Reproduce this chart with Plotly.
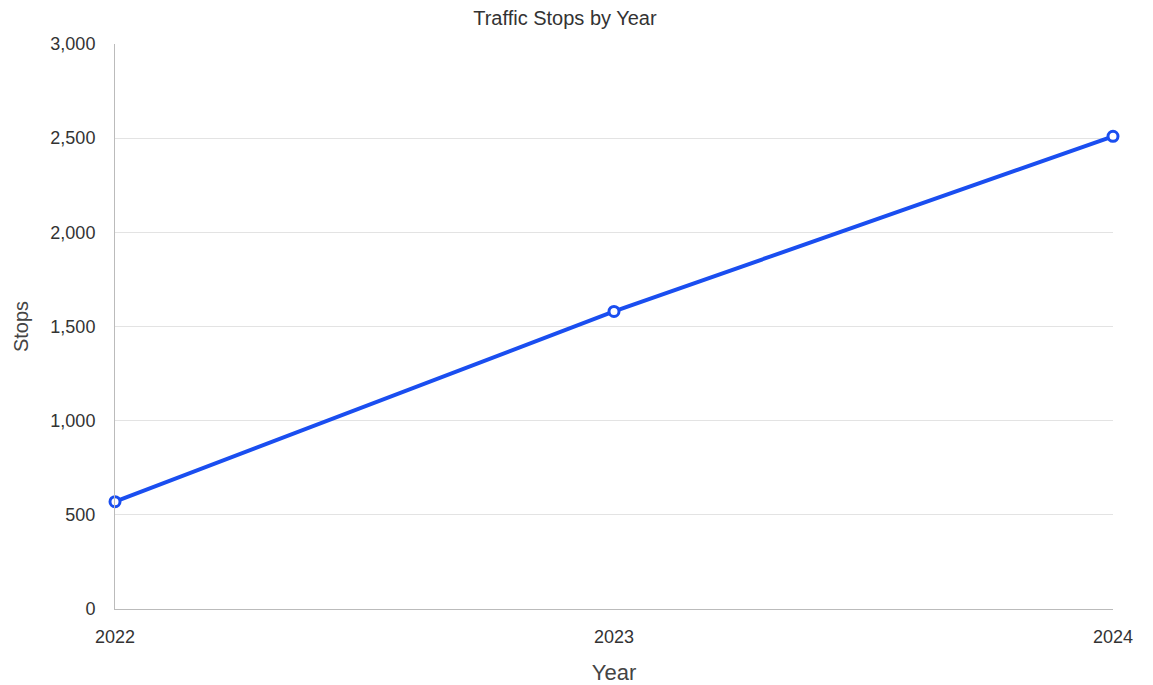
import plotly.graph_objects as go

years = [2022, 2023, 2024]
stops = [570, 1580, 2510]
y_ticks = [0, 500, 1000, 1500, 2000, 2500, 3000]
y_tick_labels = ["0", "500", "1,000", "1,500", "2,000", "2,500", "3,000"]

fig = go.Figure()
fig.add_trace(go.Scatter(
    x=years, y=stops, mode="lines+markers",
    line=dict(color="#1a4ef0", width=4),
    marker=dict(symbol="circle", size=10, color="white",
                line=dict(color="#1a4ef0", width=3)),
    cliponaxis=False, showlegend=False,
))

fig.update_layout(
    width=1153, height=685,
    margin=dict(l=107, r=48, t=36, b=84),
    paper_bgcolor="white", plot_bgcolor="white",
    font=dict(family="Arial, Liberation Sans, sans-serif", size=18, color="#333333"),
    title=dict(text="Traffic Stops by Year", x=0.483, xanchor="center",
               y=0.995, yanchor="top", pad=dict(t=0),
               font=dict(size=20, color="#333333")),
)
fig.update_xaxes(
    range=[2022, 2024], tickvals=years, ticktext=[str(y) for y in years],
    showgrid=False, zeroline=False, showline=True, linecolor="#bbbbbb", linewidth=1,
    ticks="", ticklabelstandoff=11, tickfont=dict(size=18, color="#333333"),
    title=dict(text="Year", font=dict(size=22, color="#444444"), standoff=19),
)
fig.update_yaxes(
    range=[0, 3000], tickvals=y_ticks, ticktext=y_tick_labels,
    showgrid=True, gridcolor="#e3e3e3", zeroline=False,
    showline=True, linecolor="#bbbbbb", linewidth=1,
    ticks="", ticklabelstandoff=15, tickfont=dict(size=18, color="#333333"),
    title=dict(text="Stops", font=dict(size=20, color="#444444"), standoff=16),
)

fig.write_html("out.html")
